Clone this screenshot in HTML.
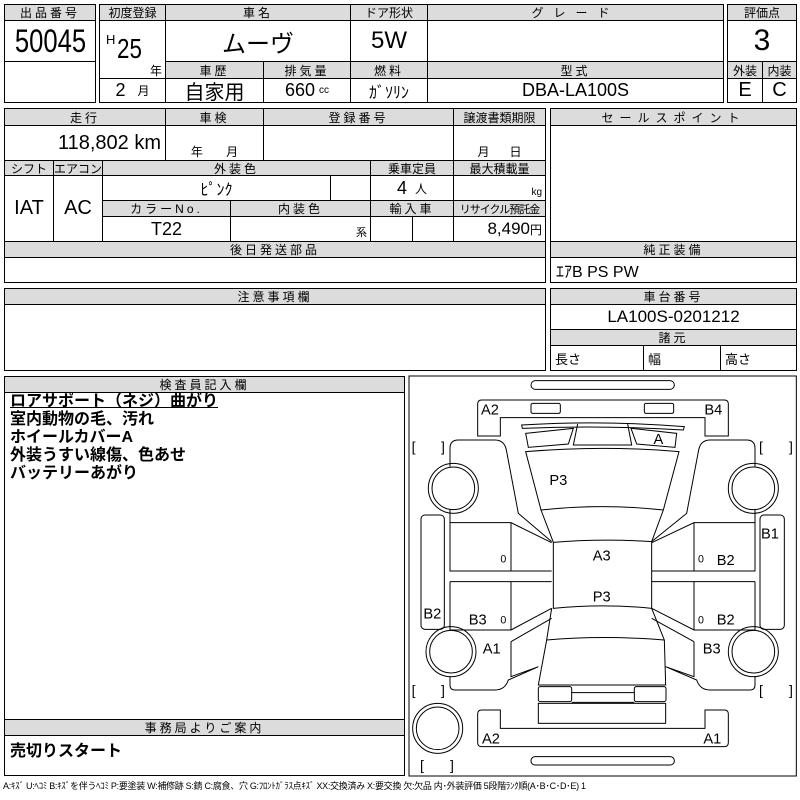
<!DOCTYPE html>
<html><head><meta charset="utf-8"><style>
body{margin:0;width:800px;height:800px;background:#fff;position:relative;overflow:hidden;font-family:"Liberation Sans","Noto Sans CJK JP",sans-serif;color:#000}
.c,.h{position:absolute;box-sizing:border-box;border:1px solid #000;display:flex;align-items:center;justify-content:center;white-space:nowrap}
.h{background:#dcdcdc;font-size:12px;letter-spacing:3px}
.v{font-size:20px}
.t{position:absolute;white-space:nowrap}
</style></head><body>
<!-- top -->
<div class="h" style="left:4px;top:4px;width:92px;height:17px">出品番号</div>
<div class="c" style="left:4px;top:20px;width:92px;height:42px;font-size:32px"><span style="display:inline-block;transform:scaleX(.8)">50045</span></div>
<div class="c" style="left:4px;top:61px;width:92px;height:42px"></div>
<div class="h" style="left:99px;top:4px;width:67px;height:17px;letter-spacing:0">初度登録</div>
<div class="h" style="left:165px;top:4px;width:186px;height:17px">車名</div>
<div class="h" style="left:350px;top:4px;width:78px;height:17px;letter-spacing:0">ドア形状</div>
<div class="h" style="left:427px;top:4px;width:297px;height:17px;letter-spacing:10px">グレード</div>
<div class="c" style="left:99px;top:20px;width:67px;height:59px"></div>
<div class="t" style="left:106px;top:32px;font-size:13px">H</div>
<div class="t" style="left:117px;top:33px;font-size:28px;transform:scaleX(.8);transform-origin:left">25</div>
<div class="t" style="left:150px;top:62px;font-size:12px">年</div>
<div class="c v" style="left:165px;top:20px;width:186px;height:42px;font-size:24px">ムーヴ</div>
<div class="c v" style="left:350px;top:20px;width:78px;height:42px;font-size:24px">5W</div>
<div class="c" style="left:427px;top:20px;width:297px;height:42px"></div>
<div class="h" style="left:165px;top:61px;width:99px;height:18px">車歴</div>
<div class="h" style="left:263px;top:61px;width:88px;height:18px">排気量</div>
<div class="h" style="left:350px;top:61px;width:78px;height:18px">燃料</div>
<div class="h" style="left:427px;top:61px;width:297px;height:18px">型式</div>
<div class="c" style="left:99px;top:78px;width:67px;height:25px;font-size:18px">2 <span style="font-size:12px;margin-left:12px">月</span></div>
<div class="c v" style="left:165px;top:78px;width:99px;height:25px">自家用</div>
<div class="c v" style="left:263px;top:78px;width:88px;height:25px;font-size:18px">660 <span style="font-size:10px;margin-left:4px">cc</span></div>
<div class="c" style="left:350px;top:78px;width:78px;height:25px;font-size:16px">ｶﾞｿﾘﾝ</div>
<div class="c" style="left:427px;top:78px;width:297px;height:25px;font-size:18px">DBA-LA100S</div>
<div class="h" style="left:727px;top:4px;width:70px;height:17px;letter-spacing:0">評価点</div>
<div class="c" style="left:727px;top:20px;width:70px;height:42px;font-size:30px">3</div>
<div class="h" style="left:727px;top:61px;width:36px;height:18px;letter-spacing:0">外装</div>
<div class="h" style="left:762px;top:61px;width:35px;height:18px;letter-spacing:0">内装</div>
<div class="c" style="left:727px;top:78px;width:36px;height:25px;font-size:20px">E</div>
<div class="c" style="left:762px;top:78px;width:35px;height:25px;font-size:20px">C</div>
<!-- section 2 -->
<div class="h" style="left:4px;top:108px;width:162px;height:18px">走行</div>
<div class="h" style="left:165px;top:108px;width:99px;height:18px">車検</div>
<div class="h" style="left:263px;top:108px;width:191px;height:18px">登録番号</div>
<div class="h" style="left:453px;top:108px;width:93px;height:18px;letter-spacing:0">譲渡書類期限</div>
<div class="c" style="left:4px;top:125px;width:162px;height:36px;justify-content:flex-end;padding-right:4px;font-size:20px">118,802 km</div>
<div class="c" style="left:165px;top:125px;width:99px;height:36px;align-items:flex-end;font-size:12px">年&nbsp;&nbsp;&nbsp;&nbsp;&nbsp;&nbsp;&nbsp;月</div>
<div class="c" style="left:263px;top:125px;width:191px;height:36px"></div>
<div class="c" style="left:453px;top:125px;width:93px;height:36px;align-items:flex-end;font-size:12px">月&nbsp;&nbsp;&nbsp;&nbsp;&nbsp;&nbsp;日</div>
<div class="h" style="left:4px;top:160px;width:50px;height:16px;letter-spacing:0">シフト</div>
<div class="h" style="left:53px;top:160px;width:50px;height:16px;letter-spacing:0">エアコン</div>
<div class="h" style="left:102px;top:160px;width:269px;height:16px">外装色</div>
<div class="h" style="left:370px;top:160px;width:84px;height:16px;letter-spacing:0">乗車定員</div>
<div class="h" style="left:453px;top:160px;width:93px;height:16px;letter-spacing:0">最大積載量</div>
<div class="c v" style="left:4px;top:175px;width:50px;height:67px">IAT</div>
<div class="c v" style="left:53px;top:175px;width:50px;height:67px">AC</div>
<div class="c" style="left:102px;top:175px;width:229px;height:26px;font-size:16px">ﾋﾟﾝｸ</div>
<div class="c" style="left:330px;top:175px;width:41px;height:26px"></div>
<div class="c" style="left:370px;top:175px;width:84px;height:26px;font-size:18px">4 <span style="font-size:12px;margin-left:8px">人</span></div>
<div class="c" style="left:453px;top:175px;width:93px;height:26px;justify-content:flex-end;align-items:flex-end;font-size:10px;padding:0 3px 2px 0">kg</div>
<div class="h" style="left:102px;top:200px;width:129px;height:17px">カラーNo.</div>
<div class="h" style="left:230px;top:200px;width:141px;height:17px">内装色</div>
<div class="h" style="left:370px;top:200px;width:84px;height:17px">輸入車</div>
<div class="h" style="left:453px;top:200px;width:93px;height:17px;letter-spacing:-1px;font-size:11px">リサイクル預託金</div>
<div class="c" style="left:102px;top:216px;width:129px;height:26px;font-size:18px">T22</div>
<div class="c" style="left:230px;top:216px;width:141px;height:26px;justify-content:flex-end;align-items:flex-end;font-size:11px;padding:0 3px 1px 0">系</div>
<div class="c" style="left:370px;top:216px;width:43px;height:26px"></div>
<div class="c" style="left:412px;top:216px;width:42px;height:26px"></div>
<div class="c" style="left:453px;top:216px;width:93px;height:26px;justify-content:flex-end;font-size:17px;padding-right:3px">8,490<span style="font-size:12px">円</span></div>
<div class="h" style="left:4px;top:241px;width:542px;height:17px">後日発送部品</div>
<div class="c" style="left:4px;top:257px;width:542px;height:26px"></div>
<div class="h" style="left:550px;top:108px;width:247px;height:18px;letter-spacing:6px">セールスポイント</div>
<div class="c" style="left:550px;top:125px;width:247px;height:117px"></div>
<div class="h" style="left:550px;top:241px;width:247px;height:17px">純正装備</div>
<div class="c" style="left:550px;top:257px;width:247px;height:26px;justify-content:flex-start;padding-left:5px;font-size:16px">ｴｱB PS PW</div>
<!-- section 3 -->
<div class="h" style="left:4px;top:288px;width:542px;height:17px">注意事項欄</div>
<div class="c" style="left:4px;top:304px;width:542px;height:67px"></div>
<div class="h" style="left:550px;top:288px;width:247px;height:17px">車台番号</div>
<div class="c" style="left:550px;top:304px;width:247px;height:26px;font-size:17px">LA100S-0201212</div>
<div class="h" style="left:550px;top:329px;width:247px;height:17px">諸元</div>
<div class="c" style="left:550px;top:345px;width:94px;height:26px;justify-content:flex-start;padding-left:4px;font-size:13px">長さ</div>
<div class="c" style="left:643px;top:345px;width:78px;height:26px;justify-content:flex-start;padding-left:4px;font-size:13px">幅</div>
<div class="c" style="left:720px;top:345px;width:77px;height:26px;justify-content:flex-start;padding-left:4px;font-size:13px">高さ</div>
<!-- section 4 -->
<div class="h" style="left:4px;top:376px;width:401px;height:17px">検査員記入欄</div>
<div class="c" style="left:4px;top:392px;width:401px;height:328px"></div>
<div class="t" style="left:10px;top:393px;font-size:16px;font-weight:bold;line-height:18px"><span style="text-decoration:underline">ロアサポート（ネジ）曲がり</span><br>室内動物の毛、汚れ<br>ホイールカバーA<br>外装うすい線傷、色あせ<br>バッテリーあがり</div>
<div class="h" style="left:4px;top:719px;width:401px;height:17px">事務局よりご案内</div>
<div class="c" style="left:4px;top:735px;width:401px;height:41px"></div>
<div class="t" style="left:10px;top:737px;font-size:16px;font-weight:bold">売切りスタート</div>
<div class="t" style="left:3px;top:779px;font-size:9px;letter-spacing:-0.3px">A:ｷｽﾞ U:ﾍｺﾐ B:ｷｽﾞを伴うﾍｺﾐ P:要塗装 W:補修跡 S:錆 C:腐食、穴 G:ﾌﾛﾝﾄｶﾞﾗｽ点ｷｽﾞ XX:交換済み X:要交換 欠:欠品 内･外装評価 5段階ﾗﾝｸ順(A･B･C･D･E) 1</div>
<!-- diagram -->
<svg style="position:absolute;left:405px;top:370px" width="395" height="420" viewBox="0 0 1185 1260">
<g fill="none" stroke="#000" stroke-width="3">
<rect x="12" y="18" width="1162" height="1200"/>
<rect x="378" y="32" width="430" height="26" rx="13"/>
<path d="M230,90 H958 Q970,90 970,102 V198 H900 V143 H286 V198 H218 V102 Q218,90 230,90 Z"/>
<rect x="378" y="100" width="88" height="30" rx="5"/><rect x="718" y="100" width="88" height="30" rx="5"/>
<path d="M350,165 Q594,150 838,170 L835,180 Q594,165 352,175 Z"/>
<path d="M362,190 L505,175 L490,222 L370,232 Z"/><path d="M678,175 L815,190 L810,232 L695,222 Z"/>
<path d="M518,162 L505,225 L680,225 L668,162"/>
<path d="M362,245 Q594,225 822,245 L775,420 Q594,400 408,420 Z"/>
<path d="M408,420 L445,517 Q594,505 740,515 L775,420"/>
<path d="M445,517 L445,715 Q594,700 740,715 L740,515"/>
<path d="M440,715 L425,810 Q594,795 778,810 L740,715"/>
<path d="M425,810 L400,945 L782,945 L778,810"/>
<rect x="400" y="950" width="100" height="45" rx="6"/><rect x="688" y="950" width="95" height="45" rx="6"/>
<path d="M500,968 H688 M500,997 H688"/>
<rect x="400" y="1000" width="382" height="60"/>
<path d="M230,1020 H286 V1075 H900 V1020 H958 Q970,1020 970,1032 V1118 Q970,1130 958,1130 H230 Q218,1130 218,1118 V1032 Q218,1020 230,1020 Z"/>
<rect x="378" y="1160" width="430" height="25" rx="12"/>
<!-- left side -->
<path d="M135,290 V235 Q135,210 160,210 H270 Q300,210 305,245 L340,430 L440,515"/>
<path d="M135,420 V458 H318 L440,518 M318,458 V603 M135,458 V603 H440 M135,635 H440 M135,635 V780 H318 L440,715 M318,635 V780"/>
<path d="M135,920 V945 Q135,960 150,960 H270 Q300,960 310,930 L400,890 M318,815 L440,745 M318,815 V920 L400,890"/>
<!-- right side -->
<path d="M1050,290 V235 Q1050,210 1025,210 H915 Q885,210 880,245 L845,430 L740,515"/>
<path d="M1050,420 V458 H867 L740,518 M867,458 V603 M1050,458 V603 H740 M1050,635 H740 M1050,635 V780 H867 L740,715 M867,635 V780"/>
<path d="M1050,920 V945 Q1050,960 1035,960 H915 Q885,960 875,930 L782,890 M867,815 L740,745 M867,815 V920 L782,890"/>
<rect x="48" y="435" width="70" height="343" rx="12"/><rect x="1065" y="435" width="73" height="343" rx="12"/>
<circle cx="145" cy="355" r="75"/><circle cx="145" cy="355" r="64"/>
<circle cx="138" cy="845" r="75"/><circle cx="138" cy="845" r="64"/>
<circle cx="1045" cy="355" r="75"/><circle cx="1045" cy="355" r="64"/>
<circle cx="1045" cy="845" r="75"/><circle cx="1045" cy="845" r="64"/>
<circle cx="98" cy="1075" r="75"/><circle cx="98" cy="1075" r="64"/>
</g>
<g font-family="Liberation Sans, sans-serif" font-size="42" fill="#000">
<text x="20" y="245">[</text><text x="108" y="245">]</text>
<text x="1062" y="245">[</text><text x="1152" y="245">]</text>
<text x="20" y="975">[</text><text x="108" y="975">]</text>
<text x="1062" y="975">[</text><text x="1152" y="975">]</text>
<text x="45" y="1200">[</text><text x="135" y="1200">]</text>
</g>
<g font-family="Liberation Sans, sans-serif" font-size="44" fill="#000" text-anchor="middle">
<text x="255" y="133">A2</text><text x="925" y="133">B4</text><text x="760" y="222">A</text>
<text x="460" y="345">P3</text><text x="1095" y="505">B1</text>
<text x="590" y="572">A3</text><text x="295" y="578" font-size="32">0</text><text x="888" y="578" font-size="32">0</text><text x="962" y="585">B2</text>
<text x="590" y="694">P3</text><text x="82" y="745">B2</text><text x="218" y="763">B3</text>
<text x="295" y="760" font-size="32">0</text><text x="888" y="760" font-size="32">0</text><text x="962" y="763">B2</text>
<text x="260" y="850">A1</text><text x="920" y="850">B3</text>
<text x="258" y="1120">A2</text><text x="922" y="1120">A1</text>
</g>
</svg>
</body></html>
